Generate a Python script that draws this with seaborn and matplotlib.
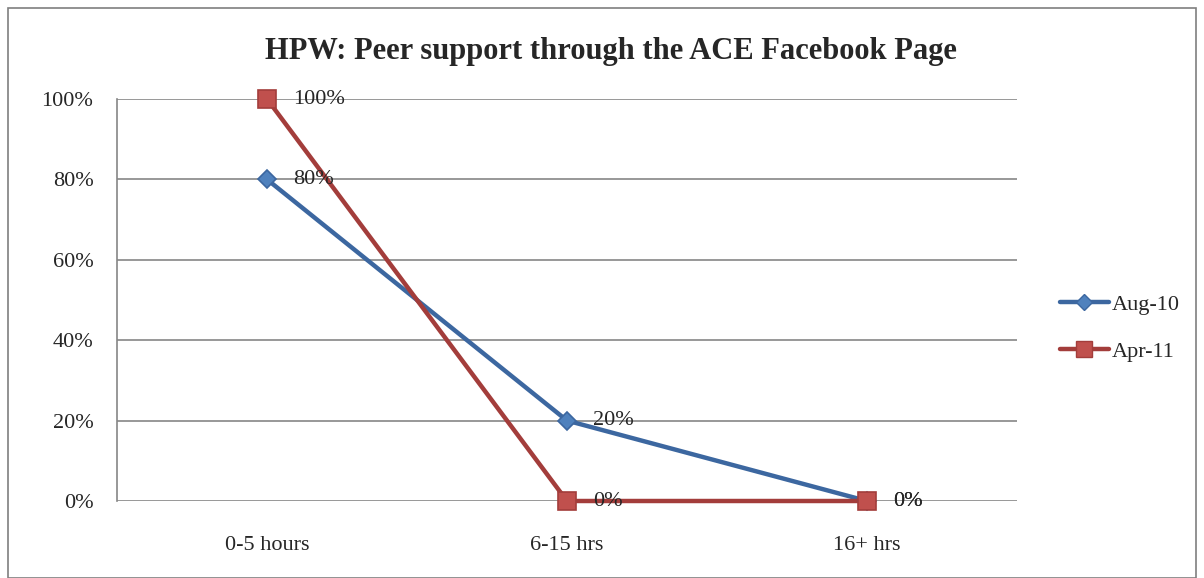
import pandas as pd
import matplotlib.pyplot as plt
import seaborn as sns
from matplotlib.patches import Rectangle

sns.set_style("white")
plt.rcParams["font.family"] = ["Liberation Serif", "DejaVu Serif"]

categories = ["0-5 hours", "6-15 hrs", "16+ hrs"]
series = ["Aug-10", "Apr-11"]
aug10 = [0.80, 0.20, 0.0]
apr11 = [1.00, 0.0, 0.0]
yticks = [0, 0.2, 0.4, 0.6, 0.8, 1.0]

df = pd.DataFrame({
    "category": categories * 2,
    "x": list(range(len(categories))) * 2,
    "value": aug10 + apr11,
    "series": [series[0]] * 3 + [series[1]] * 3,
})

line_colors = {"Aug-10": "#3C67A0", "Apr-11": "#A33D3B"}
fill_colors = {"Aug-10": "#4F81BD", "Apr-11": "#C0504D"}
markers = {"Aug-10": "D", "Apr-11": "s"}
msize = {"Aug-10": 9, "Apr-11": 13}

fig = plt.figure(figsize=(12.04, 5.78), dpi=100)
fig.patches.append(Rectangle((8 / 1204, 0), 1188 / 1204, 1 - 8 / 578, transform=fig.transFigure,
                             fill=False, edgecolor="#7f7f7f", linewidth=1.2))
ax = fig.add_axes([117 / 1204, 1 - 501 / 578, 900 / 1204, 402 / 578])

sns.lineplot(data=df, x="x", y="value", hue="series", palette=line_colors, linewidth=3.2,
             legend=False, ax=ax)
for s in series:
    sub = df[df["series"] == s]
    ax.plot(sub["x"], sub["value"], linestyle="none", marker=markers[s], markersize=msize[s],
            markerfacecolor=fill_colors[s], markeredgecolor=line_colors[s], markeredgewidth=1.2,
            zorder=4)
    for xv, yv in zip(sub["x"], sub["value"]):
        ax.text(xv + 0.087, yv, f"{int(round(yv * 100))}%", fontsize=16, va="center", ha="left",
                zorder=5)

ax.set_xlim(-0.5, 2.5)
ax.set_ylim(0, 1.0)
ax.set_yticks(yticks)
ax.set_yticklabels([f"{int(t * 100)}%" for t in yticks], fontsize=16)
ax.set_xticks(range(len(categories)))
ax.set_xticklabels(categories, fontsize=16)
ax.tick_params(axis="both", length=0)
ax.tick_params(axis="y", pad=17)
ax.tick_params(axis="x", pad=25)
ax.yaxis.grid(True, color="#868686", linewidth=1.2)
ax.set_axisbelow(True)
ax.set_xlabel("")
ax.set_ylabel("")
for sp in ["top", "right", "bottom"]:
    ax.spines[sp].set_visible(False)
ax.spines["left"].set_color("#868686")
ax.spines["left"].set_linewidth(1.2)
for ln in ax.lines:
    ln.set_clip_on(False)

fig.text(611 / 1204, 1 - 51 / 578, "HPW: Peer support through the ACE Facebook Page",
         fontsize=22, fontweight="bold", ha="center", va="center")

handles = [plt.Line2D([], [], color=line_colors[s], linewidth=3.2, marker=markers[s],
                      markersize=msize[s] - 1, markerfacecolor=fill_colors[s],
                      markeredgecolor=line_colors[s]) for s in series]
fig.legend(handles, series, loc="center left", bbox_to_anchor=(1040 / 1204, 1 - 328 / 578),
           frameon=False, fontsize=16, handlelength=2.2, handletextpad=0.15, labelspacing=1.2)

fig.savefig("out.png", dpi=100)
